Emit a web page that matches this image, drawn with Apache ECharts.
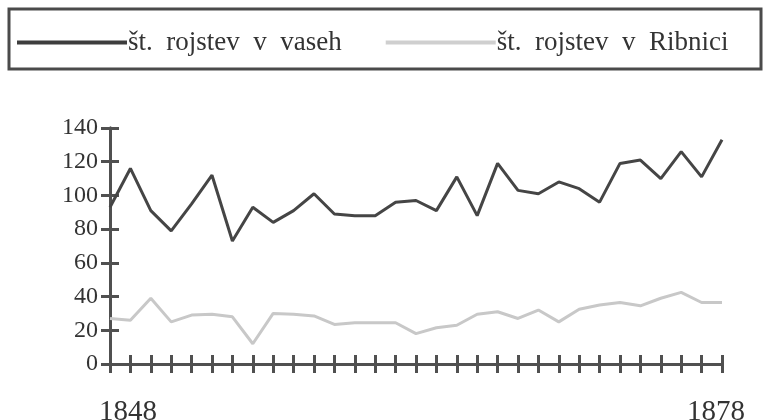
<!DOCTYPE html>
<html>
<head>
<meta charset="utf-8">
<script src="https://cdn.jsdelivr.net/npm/echarts@6/dist/echarts.min.js"></script>
<style>
html,body{margin:0;padding:0;background:#fff;}
#c{width:768px;height:420px;}
</style>
</head>
<body>
<div id="c"></div>
<script>
var years = ['1848','1849','1850','1851','1852','1853','1854','1855','1856','1857','1858','1859','1860','1861','1862','1863','1864','1865','1866','1867','1868','1869','1870','1871','1872','1873','1874','1875','1876','1877','1878'];
var shownYears = ['1848','1878'];
var vaseh = [93,116,91,79,95,112,73,93,84,91,101,89,88,88,96,97,91,111,88,119,103,101,108,104,96,119,121,110,126,111,133];
var ribnica = [27,26,39,25,29,29.5,28,12,30,29.5,28.5,23.5,24.5,24.5,24.5,18,21.5,23,29.5,31,27,32,25,32.5,35,36.5,34.5,39,42.5,36.5,36.5];
var yTicks = [0,20,40,60,80,100,120,140];
var seriesNames = ['št. rojstev v vaseh','št. rojstev v Ribnici'];

var axisCol = '#505050';
var font = 'Liberation Serif';
var chart = echarts.init(document.getElementById('c'));
chart.setOption({
  animation:false,
  backgroundColor:'#fff',
  graphic:[{type:'rect',shape:{x:9,y:9,width:752,height:60},style:{fill:'none',stroke:'#4a4a4a',lineWidth:3}}],
  legend:{
    left:12, top:24,
    icon:'rect', itemWidth:110, itemHeight:4, itemGap:44,
    textStyle:{fontFamily:font,fontSize:27,color:'#333',padding:[0,0,0,-4]},
    data:[
      {name:seriesNames[0],itemStyle:{color:'#3d3d3d'}},
      {name:seriesNames[1],itemStyle:{color:'#cfcfcf'}}
    ],
    formatter:function(n){return n.split(' ').join('  ');}
  },
  grid:{left:110,right:46,top:128,bottom:56,containLabel:false,outerBoundsMode:'none'},
  xAxis:[{
    type:'category', data:years, boundaryGap:false,
    axisLine:{lineStyle:{color:axisCol,width:3}},
    axisTick:{show:true,interval:0,length:9,lineStyle:{color:axisCol,width:3}},
    axisLabel:{interval:function(i,v){return shownYears.indexOf(v)>=0;},margin:34,
      fontFamily:font,fontSize:29,color:'#333',
      formatter:function(v,i){return i===0?'{a|'+v+'}':'{b|'+v+'}';},
      rich:{a:{fontFamily:font,fontSize:29,color:'#333',padding:[0,0,0,36]},
            b:{fontFamily:font,fontSize:29,color:'#333',padding:[0,12,0,0]}}},
    splitLine:{show:false}
  },{
    type:'category', data:years, boundaryGap:false, position:'bottom', offset:0,
    axisLine:{show:true,lineStyle:{color:axisCol,width:3}},
    axisTick:{show:true,inside:true,interval:0,length:9,lineStyle:{color:axisCol,width:3}},
    axisLabel:{show:false}, splitLine:{show:false}
  }],
  yAxis:[{
    type:'value', min:0, max:140, interval:20,
    axisLine:{show:true,lineStyle:{color:axisCol,width:3}},
    axisTick:{show:true,length:9,lineStyle:{color:axisCol,width:3}},
    axisLabel:{margin:12,fontFamily:font,fontSize:24,color:'#333',
      formatter:function(v){return yTicks.indexOf(v)>=0?String(v):'';}},
    splitLine:{show:false}
  },{
    type:'value', min:0, max:140, interval:20, position:'left', offset:0,
    axisLine:{show:true,lineStyle:{color:axisCol,width:3}},
    axisTick:{show:true,inside:true,length:9,lineStyle:{color:axisCol,width:3}},
    axisLabel:{show:false}, splitLine:{show:false}
  }],
  series:[{
    name:seriesNames[0], type:'line', data:vaseh, showSymbol:false, symbol:'none',
    lineStyle:{color:'#454545',width:3}, itemStyle:{color:'#3d3d3d'}, z:3
  },{
    name:seriesNames[1], type:'line', data:ribnica, showSymbol:false, symbol:'none',
    lineStyle:{color:'#c8c8c8',width:3}, itemStyle:{color:'#cfcfcf'}, z:3
  }]
});
</script>
</body>
</html>
